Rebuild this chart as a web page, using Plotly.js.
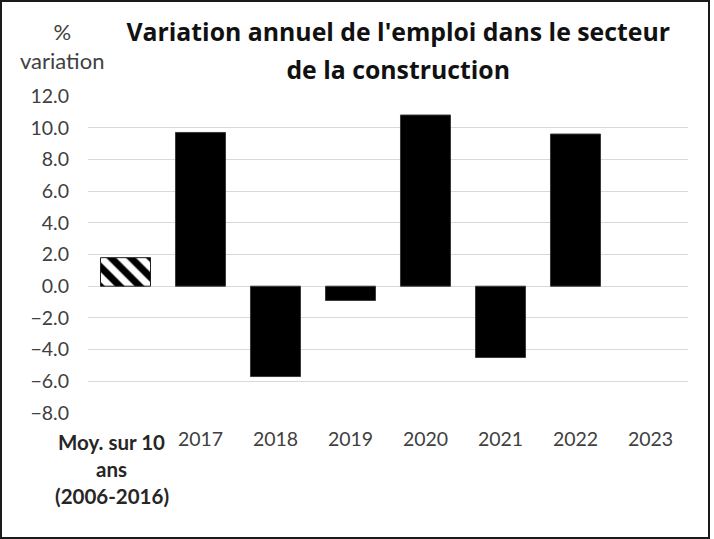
<!DOCTYPE html>
<html>
<head>
<meta charset="utf-8">
<script src="https://cdn.plot.ly/plotly-3.0.1.min.js"></script>
<style>
  html, body { margin: 0; padding: 0; background: #ffffff; }
  #wrap { width: 706px; height: 535px; border: 2px solid #1a1a1a; background: #ffffff; }
  #chart { width: 706px; height: 535px; }
</style>
</head>
<body>
<div id="wrap"><div id="chart"></div></div>
<script>
// ---- data ----
const categories = ["Moy. sur 10 ans (2006-2016)", "2017", "2018", "2019", "2020", "2021", "2022", "2023"];
const tickLabels = ["", "2017", "2018", "2019", "2020", "2021", "2022", "2023"];
const firstLabelLines = ["Moy. sur 10", "ans", "(2006-2016)"];
const values = [1.8, 9.7, -5.7, -0.9, 10.8, -4.5, 9.6, null];
const titleLines = ["Variation annuel de l'emploi dans le secteur", "de la construction"];
const yAxisLabel = "%<br>variation";

// ---- styles ----
const FONT = "Lato, 'Open Sans', sans-serif";
const TITLE_FONT = "'Open Sans', 'Noto Sans', sans-serif";
const TXT = "#404040";

// average bar (hatched) and yearly bars (solid), drawn as two overlaid traces
const avgTrace = {
  type: "bar",
  x: [categories[0]],
  y: [values[0]],
  marker: {
    color: "#ffffff",
    line: { color: "#222222", width: 1 },
    pattern: { shape: "\\", fgcolor: "#000000", bgcolor: "#ffffff", fgopacity: 1, size: 14, solidity: 0.5, fillmode: "replace" }
  },
  hoverinfo: "x+y"
};
const yearTrace = {
  type: "bar",
  x: categories.slice(1),
  y: values.slice(1),
  marker: { color: "#000000", line: { color: "#3a3a3a", width: 1 } },
  hoverinfo: "x+y"
};

const annotations = firstLabelLines.map((t, i) => ({
  text: "<b>" + t + "</b>",
  x: categories[0], xref: "x",
  y: 0, yref: "paper",
  xanchor: "center", yanchor: "middle",
  xshift: -14, yshift: -29 - 27 * i,
  showarrow: false,
  font: { family: FONT, size: 20.5, color: "#262626" }
}));
annotations.push({
  text: yAxisLabel,
  x: -0.043, xref: "paper",
  y: 1.158, yref: "paper",
  xanchor: "center", yanchor: "middle",
  showarrow: false,
  font: { family: FONT, size: 22, color: TXT }
});

const titleHtml = titleLines.map(t => '<span style="font-size:24.8px">' + t + '</span>').join("<br>");

const layout = {
  width: 706, height: 535,
  paper_bgcolor: "#ffffff", plot_bgcolor: "#ffffff",
  margin: { l: 86, r: 20, t: 94, b: 124 },
  showlegend: false,
  barmode: "overlay",
  bargap: 0.333,
  title: {
    text: "<b>" + titleHtml + "</b>",
    font: { family: TITLE_FONT, size: 29, color: "#111111" },
    x: 0.517, xref: "paper", xanchor: "center",
    y: 0.927, yref: "container", yanchor: "middle"
  },
  xaxis: {
    type: "category",
    categoryorder: "array",
    categoryarray: categories,
    tickvals: categories,
    ticktext: tickLabels,
    range: [-0.5, 7.5],
    showgrid: false, zeroline: false, showline: false, ticks: "",
    tickfont: { family: FONT, size: 19.5, color: TXT },
    ticklabelstandoff: 12
  },
  yaxis: {
    range: [-8, 12],
    dtick: 2, tick0: 0,
    tickformat: ".1f",
    showgrid: true, gridcolor: "#d9d9d9", gridwidth: 1,
    zeroline: false, showline: false, ticks: "",
    tickfont: { family: FONT, size: 19.5, color: TXT },
    ticklabelstandoff: 18
  },
  annotations: annotations
};

Plotly.newPlot("chart", [avgTrace, yearTrace], layout, { displayModeBar: false, staticPlot: true });
</script>
</body>
</html>
